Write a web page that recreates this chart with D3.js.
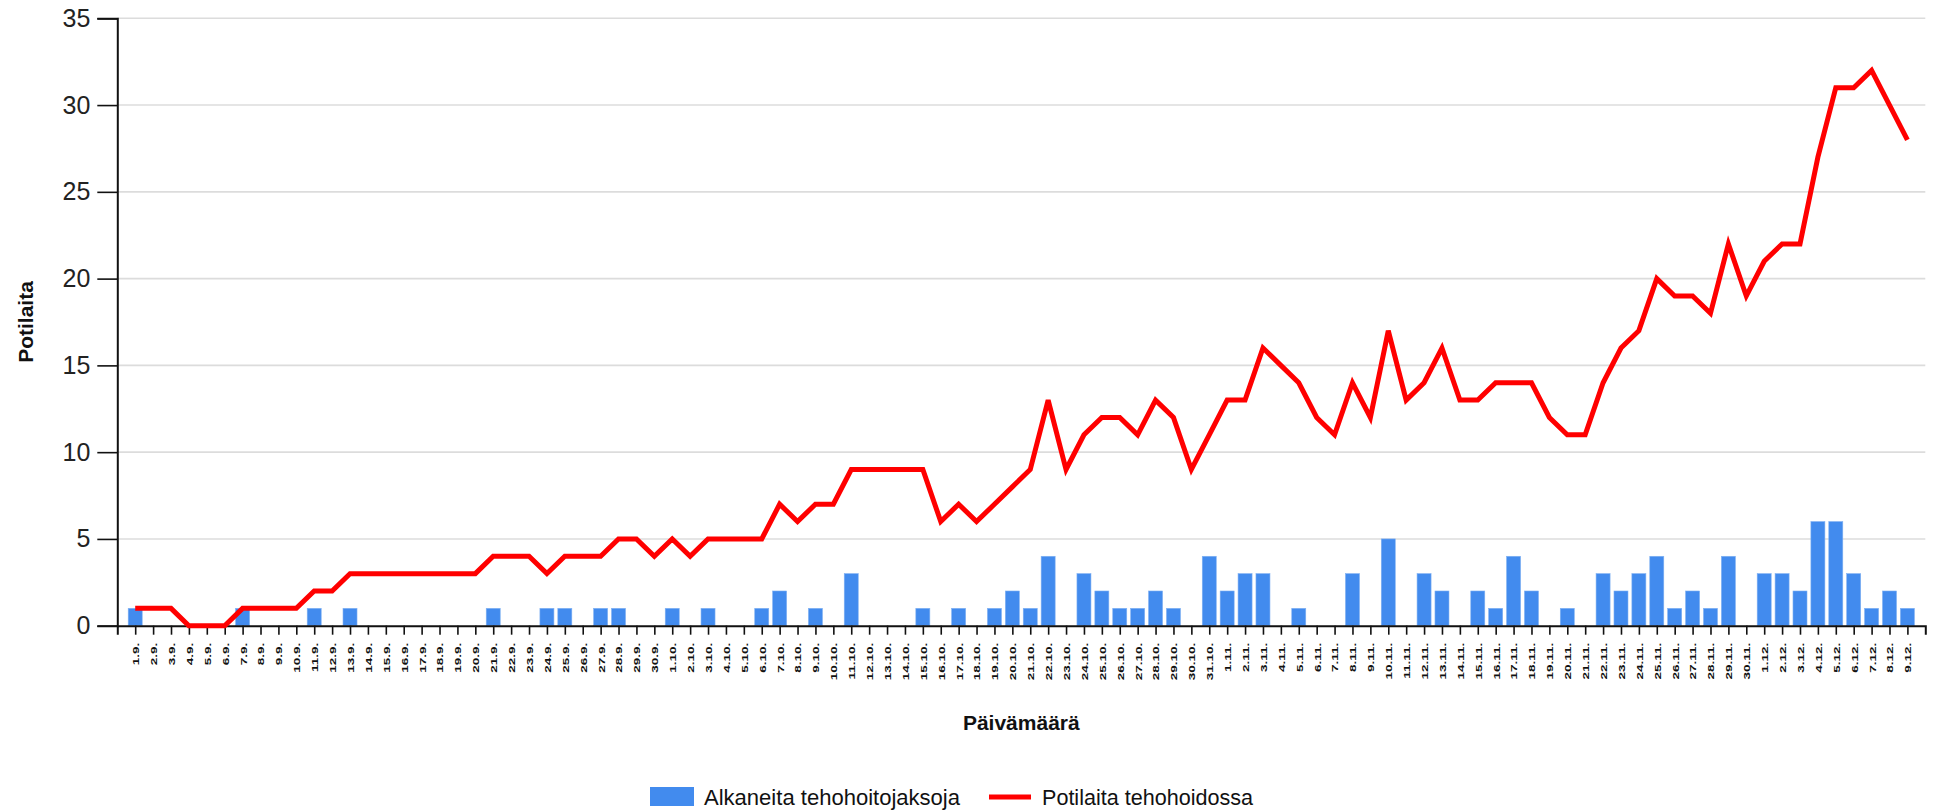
<!DOCTYPE html>
<html>
<head>
<meta charset="utf-8">
<script src="https://cdn.jsdelivr.net/npm/d3@7"></script>
<style>
  html, body { margin: 0; padding: 0; background: #fff; }
  svg { display: block; font-family: "Liberation Sans", Arial, sans-serif; }
</style>
</head>
<body>
<svg id="chart" width="1936" height="811"></svg>
<script>
// ---- Data ----
const dates = [
  "1.9.","2.9.","3.9.","4.9.","5.9.","6.9.","7.9.","8.9.","9.9.","10.9.",
  "11.9.","12.9.","13.9.","14.9.","15.9.","16.9.","17.9.","18.9.","19.9.","20.9.",
  "21.9.","22.9.","23.9.","24.9.","25.9.","26.9.","27.9.","28.9.","29.9.","30.9.",
  "1.10.","2.10.","3.10.","4.10.","5.10.","6.10.","7.10.","8.10.","9.10.","10.10.",
  "11.10.","12.10.","13.10.","14.10.","15.10.","16.10.","17.10.","18.10.","19.10.","20.10.",
  "21.10.","22.10.","23.10.","24.10.","25.10.","26.10.","27.10.","28.10.","29.10.","30.10.","31.10.",
  "1.11.","2.11.","3.11.","4.11.","5.11.","6.11.","7.11.","8.11.","9.11.","10.11.",
  "11.11.","12.11.","13.11.","14.11.","15.11.","16.11.","17.11.","18.11.","19.11.","20.11.",
  "21.11.","22.11.","23.11.","24.11.","25.11.","26.11.","27.11.","28.11.","29.11.","30.11.",
  "1.12.","2.12.","3.12.","4.12.","5.12.","6.12.","7.12.","8.12.","9.12."
];

// Alkaneita tehohoitojaksoja (bars)
const startedEpisodes = [
  1,0,0,0,0,0,1,0,0,0, 1,0,1,0,0,0,0,0,0,0, 1,0,0,1,1,0,1,1,0,0,
  1,0,1,0,0,1,2,0,1,0, 3,0,0,0,1,0,1,0,1,2, 1,4,0,3,2,1,1,2,1,0, 4,
  2,3,3,0,1,0,0,3,0,5, 0,3,2,0,2,1,4,2,0,1, 0,3,2,3,4,1,2,1,4,0,
  3,3,2,6,6,3,1,2,1
];

// Potilaita tehohoidossa (line)
const patientsInICU = [
  1,1,1,0,0,0,1,1,1,1, 2,2,3,3,3,3,3,3,3,3, 4,4,4,3,4,4,4,5,5,4,
  5,4,5,5,5,5,7,6,7,7, 9,9,9,9,9,6,7,6,7,8, 9,13,9,11,12,12,11,13,12,9, 11,
  13,13,16,15,14,12,11,14,12,17, 13,14,16,13,13,14,14,14,12,11, 11,14,16,17,20,19,19,18,22,19,
  21,22,22,27,31,31,32,30,28
];

const yTicks = [0,5,10,15,20,25,30,35];
const seriesNames = ["Alkaneita tehohoitojaksoja", "Potilaita tehohoidossa"];
const axisTitles = { x: "Päivämäärä", y: "Potilaita" };

// ---- Layout ----
(function draw() {
const svg = d3.select("#chart");
const mLeft = 117.3, mRight = 1925.3, mTop = 18.3, mBottom = 625.7;

const x = d3.scalePoint().domain(dates).range([mLeft, mRight]).padding(1);
const y = d3.scaleLinear().domain([0, 35]).range([mBottom, mTop]);

// gridlines
svg.append("g")
  .selectAll("line")
  .data(yTicks.filter(d => d > 0))
  .join("line")
  .attr("x1", mLeft).attr("x2", mRight)
  .attr("y1", d => y(d)).attr("y2", d => y(d))
  .attr("stroke", "#dcdcdc")
  .attr("stroke-width", 1.6);

// bars
const barW = 14;
svg.append("g")
  .selectAll("rect")
  .data(dates.map((d, i) => ({ d, v: startedEpisodes[i] })).filter(o => o.v > 0))
  .join("rect")
  .attr("x", o => x(o.d) - barW / 2)
  .attr("width", barW)
  .attr("y", o => y(o.v))
  .attr("height", o => y(0) - y(o.v))
  .attr("fill", "#428bee")
  .attr("stroke", "#7fb0f2")
  .attr("stroke-width", 0.6);

// x axis
const xAxis = svg.append("g")
  .attr("transform", `translate(0,${mBottom})`)
  .call(d3.axisBottom(x).tickSizeInner(9).tickSizeOuter(9));
xAxis.select(".domain").attr("stroke", "#111").attr("stroke-width", 2);
xAxis.selectAll(".tick line").attr("stroke", "#111").attr("stroke-width", 1.6);
xAxis.selectAll(".tick text")
  .attr("transform", "rotate(-90) scale(1,0.72)")
  .attr("x", -17)
  .attr("y", 0)
  .attr("dy", "0.35em")
  .style("text-anchor", "end")
  .attr("font-size", 13.5)
  .attr("font-weight", "bold")
  .attr("font-family", "Liberation Sans, Arial, sans-serif")
  .attr("fill", "#111");

// y axis
const yAxis = svg.append("g")
  .attr("transform", `translate(${mLeft},0)`)
  .call(d3.axisLeft(y).tickValues(yTicks).tickSizeInner(20).tickSizeOuter(20).tickPadding(7));
yAxis.select(".domain").attr("stroke", "#111").attr("stroke-width", 2);
yAxis.selectAll(".tick line").attr("stroke", "#111").attr("stroke-width", 1.6);
yAxis.selectAll(".tick text")
  .attr("font-size", 25)
  .attr("font-family", "Liberation Sans, Arial, sans-serif")
  .attr("fill", "#222");

// line
const line = d3.line()
  .x((v, i) => x(dates[i]))
  .y(v => y(v));
svg.append("path")
  .datum(patientsInICU)
  .attr("d", line)
  .attr("fill", "none")
  .attr("stroke", "#ff0000")
  .attr("stroke-width", 5);

// axis titles
svg.append("text")
  .attr("x", (mLeft + mRight) / 2)
  .attr("y", 730)
  .attr("text-anchor", "middle")
  .attr("font-size", 21)
  .attr("font-weight", "bold")
  .attr("fill", "#111")
  .text(axisTitles.x);

svg.append("text")
  .attr("transform", "translate(33,322) rotate(-90)")
  .attr("text-anchor", "middle")
  .attr("font-size", 21)
  .attr("font-weight", "bold")
  .attr("fill", "#111")
  .text(axisTitles.y);

// legend
const lg = svg.append("g");
lg.append("rect")
  .attr("x", 650).attr("y", 787).attr("width", 44).attr("height", 19)
  .attr("fill", "#428bee");
lg.append("text")
  .attr("x", 704).attr("y", 805)
  .attr("font-size", 22)
  .attr("textLength", 256)
  .attr("lengthAdjust", "spacingAndGlyphs")
  .attr("fill", "#111")
  .text(seriesNames[0]);
lg.append("line")
  .attr("x1", 989).attr("x2", 1031).attr("y1", 797).attr("y2", 797)
  .attr("stroke", "#ff0000").attr("stroke-width", 5);
lg.append("text")
  .attr("x", 1042).attr("y", 805)
  .attr("font-size", 22)
  .attr("textLength", 211)
  .attr("lengthAdjust", "spacingAndGlyphs")
  .attr("fill", "#111")
  .text(seriesNames[1]);
})();
</script>
</body>
</html>
